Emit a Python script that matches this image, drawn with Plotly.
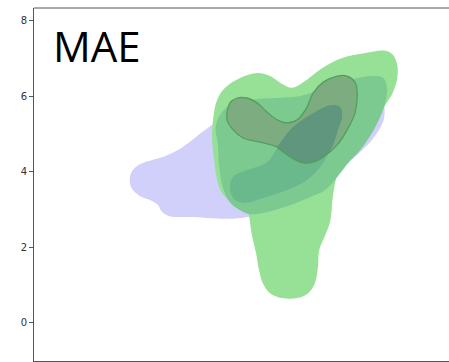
import plotly.graph_objects as go

# Contour outlines (data units)
blue_x = [2.54, 2.62, 2.81, 3.13, 3.47, 3.81, 4.19, 4.53, 5.06, 5.99, 7.58, 8.77, 9.11, 9.27, 9.27, 9.17, 8.95, 8.64, 8.29, 7.97, 7.05, 5.67, 4.13, 3.60, 3.39, 3.28, 3.07, 2.81, 2.62, 2.54]
blue_y = [3.87, 4.05, 4.21, 4.32, 4.42, 4.58, 4.85, 5.11, 5.46, 5.77, 6.04, 6.23, 6.12, 5.77, 5.43, 5.17, 4.85, 4.53, 4.21, 3.84, 3.39, 2.81, 2.81, 2.83, 2.94, 3.13, 3.26, 3.36, 3.52, 3.71]

green_x = [4.74, 4.85, 5.06, 5.46, 5.93, 6.25, 6.57, 6.83, 7.13, 7.63, 8.16, 8.77, 9.30, 9.51, 9.62, 9.62, 9.51, 9.30, 9.03, 8.64, 8.24, 8.03, 7.92, 7.84, 7.68, 7.55, 7.52, 7.44, 7.26, 6.97, 6.57, 6.25, 6.07, 5.96, 5.88, 5.77, 5.70, 5.64, 5.25, 4.98, 4.85, 4.77, 4.72]
green_y = [5.38, 5.91, 6.23, 6.49, 6.62, 6.54, 6.33, 6.23, 6.38, 6.75, 7.02, 7.15, 7.21, 7.10, 6.83, 6.49, 6.12, 5.77, 5.38, 4.85, 4.32, 3.92, 3.39, 2.68, 2.25, 1.93, 1.48, 1.06, 0.79, 0.66, 0.66, 0.79, 1.03, 1.40, 1.85, 2.33, 2.81, 3.10, 3.21, 3.44, 3.79, 4.32, 4.85]

mid_x = [4.82, 5.11, 5.72, 6.44, 7.05, 7.76, 8.37, 8.98, 9.25, 9.35, 9.30, 9.17, 8.95, 8.64, 8.32, 8.03, 7.71, 7.26, 6.65, 6.04, 5.67, 5.35, 5.14, 4.98, 4.90, 4.87]
mid_y = [5.25, 5.72, 5.91, 5.96, 6.01, 6.25, 6.44, 6.54, 6.49, 6.23, 5.83, 5.46, 5.03, 4.58, 4.24, 3.87, 3.52, 3.31, 3.07, 2.91, 2.89, 3.05, 3.26, 3.66, 4.19, 4.72]

band_x = [5.19, 5.27, 5.64, 6.17, 6.52, 6.86, 7.31, 7.84, 8.11, 8.16, 8.05, 7.84, 7.58, 7.23, 6.70, 6.07, 5.54, 5.27]
band_y = [3.60, 3.87, 4.05, 4.26, 4.77, 5.19, 5.51, 5.77, 5.72, 5.46, 5.11, 4.58, 4.13, 3.79, 3.52, 3.31, 3.18, 3.31]

heart_x = [5.11, 5.19, 5.38, 5.64, 5.91, 6.17, 6.44, 6.70, 6.97, 7.23, 7.39, 7.66, 8.03, 8.29, 8.50, 8.56, 8.50, 8.29, 8.03, 7.66, 7.39, 7.13, 6.78, 6.44, 5.99, 5.54, 5.25, 5.11]
heart_y = [5.56, 5.83, 5.96, 5.96, 5.83, 5.59, 5.38, 5.30, 5.38, 5.72, 6.09, 6.38, 6.54, 6.54, 6.38, 6.09, 5.56, 5.11, 4.72, 4.40, 4.26, 4.24, 4.40, 4.66, 4.79, 4.90, 5.14, 5.38]

core_x = [6.44, 6.52, 6.86, 7.31, 7.84, 8.11, 8.16, 8.05, 7.87, 7.66, 7.39, 7.13, 6.78]
core_y = [4.66, 4.77, 5.19, 5.51, 5.77, 5.72, 5.46, 5.11, 4.61, 4.40, 4.26, 4.24, 4.40]

y_ticks = [0, 2, 4, 6, 8]
label = "MAE"

def poly(x, y, color, line=None):
    return go.Scatter(
        x=x + x[:1], y=y + y[:1], mode="lines", fill="toself",
        fillcolor=color,
        line=dict(color=line if line else color, width=1.3 if line else 0, shape="spline"),
        hoverinfo="skip", showlegend=False,
    )

fig = go.Figure()
fig.add_trace(poly(blue_x, blue_y, "rgb(208,208,250)"))
fig.add_trace(poly(green_x, green_y, "rgb(150,225,150)"))
fig.add_trace(poly(mid_x, mid_y, "rgb(125,202,145)"))
fig.add_trace(poly(band_x, band_y, "rgb(105,185,140)"))
fig.add_trace(poly(heart_x, heart_y, "rgb(125,172,128)"))
fig.add_trace(poly(core_x, core_y, "rgb(95,150,125)"))
fig.add_trace(go.Scatter(x=heart_x + heart_x[:1], y=heart_y + heart_y[:1], mode="lines",
                         line=dict(color="rgb(80,160,90)", width=1.3, shape="spline"),
                         hoverinfo="skip", showlegend=False))

fig.update_layout(
    width=449, height=362,
    margin=dict(l=34, r=0, t=8, b=1),
    paper_bgcolor="white", plot_bgcolor="white",
    showlegend=False,
    xaxis=dict(range=[0, 10.99], showgrid=False, zeroline=False, showticklabels=False,
               ticks="", showline=True, linecolor="#555", linewidth=1, mirror=False),
    yaxis=dict(range=[-1.007, 8.344], showgrid=False, zeroline=False,
               tickvals=y_ticks, ticks="outside", ticklen=4, tickcolor="#555",
               tickfont=dict(family="DejaVu Sans", size=10, color="#333"),
               showline=True, linecolor="#555", linewidth=1, mirror=False),
    shapes=[dict(type="line", xref="paper", yref="paper", x0=0, x1=1.02, y0=1, y1=1,
                 line=dict(color="#555", width=1))],
    annotations=[dict(text=label, xref="paper", yref="paper", x=0.04, y=0.98,
                      xanchor="left", yanchor="top", showarrow=False,
                      font=dict(family="Open Sans", size=42, color="black"))],
)

fig.write_html("out.html", config={"displayModeBar": False})
